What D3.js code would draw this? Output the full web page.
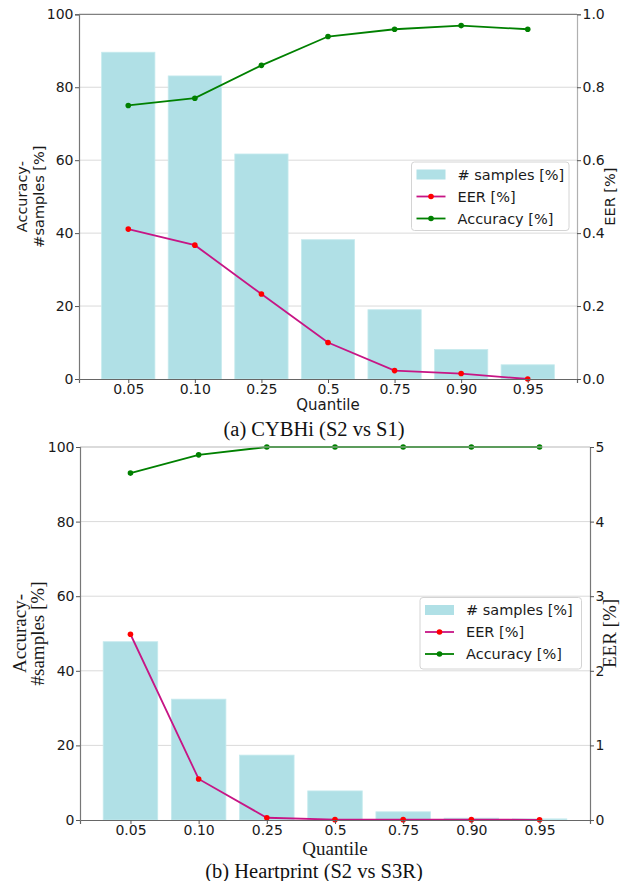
<!DOCTYPE html>
<html>
<head>
<meta charset="utf-8">
<script src="https://cdn.jsdelivr.net/npm/d3@7"></script>
<style>
  html, body { margin: 0; padding: 0; background: #fff; }
  svg { display: block; }
</style>
</head>
<body>
<svg id="chart" width="632" height="881"></svg>
<script>
// ---------- data ----------
const quantiles = ["0.05", "0.10", "0.25", "0.5", "0.75", "0.90", "0.95"];

// (a) CYBHi (S2 vs S1)
const cybhiSamples = [89.6, 83.1, 61.7, 38.2, 19.0, 8.1, 3.9];
const cybhiEER = [0.411, 0.367, 0.233, 0.100, 0.023, 0.015, 0.0];
const cybhiAccuracy = [75.0, 77.0, 86.0, 93.9, 95.9, 96.9, 95.9];
const cybhiLeftTicks = [0, 20, 40, 60, 80, 100];
const cybhiRightTicks = [0.0, 0.2, 0.4, 0.6, 0.8, 1.0];

// (b) Heartprint (S2 vs S3R)
const hpSamples = [47.8, 32.4, 17.4, 7.8, 2.2, 0.5, 0.3];
const hpEER = [2.49, 0.55, 0.03, 0.005, 0.005, 0.005, 0.003];
const hpAccuracy = [93.0, 97.9, 100, 100, 100, 100, 100];
const hpLeftTicks = [0, 20, 40, 60, 80, 100];
const hpRightTicks = [0, 1, 2, 3, 4, 5];

const legendLabels = ["# samples [%]", "EER [%]", "Accuracy [%]"];

// ---------- styles ----------
const SANS = "'DejaVu Sans', sans-serif";
const SERIF = "'Liberation Serif', 'Times New Roman', serif";
const BAR = "#b0e0e6";
const GREEN = "#008000";
const EERLINE = "#c71585";
const EERDOT = "#ff0000";
const GRID = "#dadada";

const svg = d3.select("#chart");

function panel(cfg) {
  const g = svg.append("g");
  const x = d3.scaleLinear().domain([-0.74, 6.74]).range([cfg.left, cfg.right]);
  const yL = d3.scaleLinear().domain([0, 100]).range([cfg.bottom, cfg.top]);
  const yR = d3.scaleLinear().domain(cfg.rightDomain).range([cfg.bottom, cfg.top]);
  const idx = d3.range(quantiles.length);

  // grid
  g.append("g").selectAll("line").data(cfg.leftTicks.filter(t => t > 0 && t < 100)).join("line")
    .attr("x1", cfg.left).attr("x2", cfg.right)
    .attr("y1", d => yL(d)).attr("y2", d => yL(d))
    .attr("stroke", GRID).attr("stroke-width", 1);

  // bars
  g.append("g").selectAll("rect").data(idx).join("rect")
    .attr("x", i => x(i - 0.4)).attr("width", x(0.4) - x(-0.4))
    .attr("y", i => yL(cfg.samples[i]))
    .attr("height", i => yL(0) - yL(cfg.samples[i]))
    .attr("fill", BAR).attr("stroke", "#c6eaee").attr("stroke-width", 0.8);

  // EER line
  const eerLine = d3.line().x(i => x(i)).y(i => yR(cfg.eer[i]));
  g.append("path").datum(idx).attr("d", eerLine)
    .attr("fill", "none").attr("stroke", EERLINE).attr("stroke-width", 1.8);
  g.append("g").selectAll("circle").data(idx).join("circle")
    .attr("cx", i => x(i)).attr("cy", i => yR(cfg.eer[i])).attr("r", 2.8)
    .attr("fill", EERDOT);

  // Accuracy line
  const accLine = d3.line().x(i => x(i)).y(i => yL(cfg.acc[i]));
  g.append("path").datum(idx).attr("d", accLine)
    .attr("fill", "none").attr("stroke", GREEN).attr("stroke-width", 1.8);
  g.append("g").selectAll("circle").data(idx).join("circle")
    .attr("cx", i => x(i)).attr("cy", i => yL(cfg.acc[i])).attr("r", 2.8)
    .attr("fill", GREEN);

  // top spine
  g.append("line").attr("x1", cfg.left).attr("x2", cfg.right)
    .attr("y1", cfg.top).attr("y2", cfg.top)
    .attr("stroke", cfg.topSpine).attr("stroke-width", 1.2);

  // axes
  const xAxis = d3.axisBottom(x).tickValues(idx).tickFormat(i => quantiles[i])
    .tickSize(4).tickPadding(1.5);
  const gx = g.append("g").attr("transform", `translate(0,${cfg.bottom})`).call(xAxis);
  const leftAxis = d3.axisLeft(yL).tickValues(cfg.leftTicks).tickFormat(d3.format("d"))
    .tickSize(4).tickPadding(1.5);
  const gl = g.append("g").attr("transform", `translate(${cfg.left},0)`).call(leftAxis);
  const rightAxis = d3.axisRight(yR).tickValues(cfg.rightTicks).tickFormat(cfg.rightFormat)
    .tickSize(4).tickPadding(1.5);
  const gr = g.append("g").attr("transform", `translate(${cfg.right},0)`).call(rightAxis);

  [gx, gl, gr].forEach(a => {
    a.selectAll("text").attr("font-family", SANS).attr("font-size", 14).attr("fill", "#1a1a1a");
    a.selectAll(".tick line").attr("stroke", "#555");
  });
  gx.select(".domain").attr("stroke", "#666").attr("stroke-width", 1.2);
  gl.select(".domain").attr("stroke", "#777").attr("stroke-width", 1.2);
  gr.select(".domain").attr("stroke", cfg.rightSpine).attr("stroke-width", 1.2);

  // axis titles
  const titleFont = cfg.serifTitles ? SERIF : SANS;
  const titleSize = cfg.serifTitles ? 19 : 14.5;
  g.append("text").attr("x", (cfg.left + cfg.right) / 2).attr("y", cfg.quantileY)
    .attr("text-anchor", "middle").attr("dominant-baseline", "central")
    .attr("font-family", titleFont).attr("font-size", cfg.serifTitles ? 19 : 15)
    .attr("fill", "#1a1a1a").text("Quantile");

  const cy = (cfg.top + cfg.bottom) / 2;
  const yt = g.append("text").attr("transform", `translate(0,${cy}) rotate(-90)`)
    .attr("text-anchor", "middle").attr("font-family", titleFont)
    .attr("font-size", titleSize).attr("fill", "#1a1a1a");
  yt.append("tspan").attr("x", 0).attr("y", cfg.ylab1).text("Accuracy-");
  yt.append("tspan").attr("x", 0).attr("y", cfg.ylab2).text("#samples [%]");

  g.append("text").attr("transform", `translate(${cfg.eerX},${cy}) rotate(-90)`)
    .attr("text-anchor", "middle").attr("font-family", titleFont)
    .attr("font-size", cfg.serifTitles ? 19 : 14.5).attr("fill", "#1a1a1a").text("EER [%]");

  // caption
  g.append("text").attr("x", 314).attr("y", cfg.captionY)
    .attr("text-anchor", "middle").attr("dominant-baseline", "central")
    .attr("font-family", SERIF).attr("font-size", 20.5).attr("fill", "#111")
    .text(cfg.caption);

  // legend
  const L = cfg.legend;
  const lg = g.append("g");
  lg.append("rect").attr("x", L.x).attr("y", L.y).attr("width", L.w).attr("height", L.h)
    .attr("rx", 3).attr("fill", "#fff").attr("fill-opacity", 0.85)
    .attr("stroke", "#d4d4d4").attr("stroke-width", 1);
  const rows = [L.y + 12.5, L.y + 34.5, L.y + 56.5];
  const px = L.x + 5, pw = 29;
  lg.append("rect").attr("x", px).attr("y", rows[0] - 5).attr("width", pw).attr("height", 10)
    .attr("fill", BAR);
  lg.append("line").attr("x1", px).attr("x2", px + pw).attr("y1", rows[1]).attr("y2", rows[1])
    .attr("stroke", EERLINE).attr("stroke-width", 1.8);
  lg.append("circle").attr("cx", px + pw / 2).attr("cy", rows[1]).attr("r", 2.8).attr("fill", EERDOT);
  lg.append("line").attr("x1", px).attr("x2", px + pw).attr("y1", rows[2]).attr("y2", rows[2])
    .attr("stroke", GREEN).attr("stroke-width", 1.8);
  lg.append("circle").attr("cx", px + pw / 2).attr("cy", rows[2]).attr("r", 2.8).attr("fill", GREEN);
  lg.selectAll("text.lab").data(legendLabels).join("text").attr("class", "lab")
    .attr("x", L.x + 46).attr("y", (d, i) => rows[i]).attr("dominant-baseline", "central")
    .attr("font-family", SANS).attr("font-size", 14.5).attr("fill", "#1a1a1a").text(d => d);
}

panel({
  left: 79, right: 577, top: 14.3, bottom: 379,
  samples: cybhiSamples, eer: cybhiEER, acc: cybhiAccuracy,
  leftTicks: cybhiLeftTicks, rightTicks: cybhiRightTicks,
  rightDomain: [0, 1], rightFormat: d3.format(".1f"),
  serifTitles: false, quantileY: 405, captionY: 429,
  ylab1: 27, ylab2: 44, eerX: 615,
  topSpine: "#808080", rightSpine: "#b0b0b0",
  caption: "(a) CYBHi (S2 vs S1)",
  legend: { x: 411.5, y: 162, w: 157.5, h: 68.5 }
});

panel({
  left: 80, right: 590, top: 447, bottom: 820,
  samples: hpSamples, eer: hpEER, acc: hpAccuracy,
  leftTicks: hpLeftTicks, rightTicks: hpRightTicks,
  rightDomain: [0, 5], rightFormat: d3.format("d"),
  serifTitles: true, quantileY: 848.5, captionY: 870.5,
  ylab1: 26, ylab2: 44, eerX: 616,
  topSpine: "#b8b8b8", rightSpine: "#777",
  caption: "(b) Heartprint (S2 vs S3R)",
  legend: { x: 420, y: 597.5, w: 161.5, h: 71.5 }
});
</script>
</body>
</html>
